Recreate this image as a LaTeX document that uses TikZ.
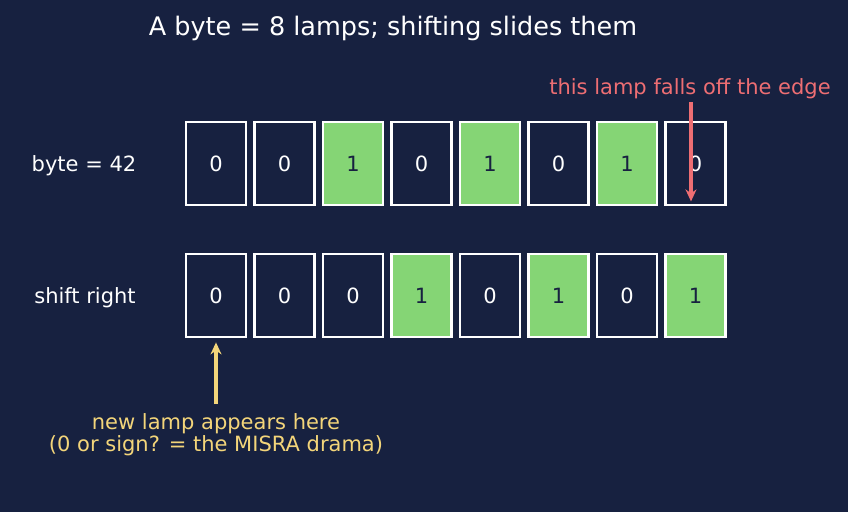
\documentclass[tikz,border=0pt]{standalone}
\usepackage{fontspec}
\setmainfont{DejaVu Sans}
\usetikzlibrary{arrows.meta}

\definecolor{bg}{HTML}{172140}
\definecolor{lampon}{HTML}{85D575}
\definecolor{falloff}{HTML}{EE6E73}
\definecolor{newlamp}{HTML}{F3D57A}

\tikzset{
  lamp/.style={draw=white, line width=2.8pt, minimum width=60pt,
    minimum height=83pt, inner sep=0pt, font=\fontsize{21}{22}\selectfont},
  bit0/.style={lamp, fill=bg, text=white},
  bit1/.style={lamp, fill=lampon, text=bg},
  rowlabel/.style={text=white, font=\fontsize{21}{22}\selectfont},
  note/.style={font=\fontsize{21}{22.5}\selectfont, align=center, inner sep=1pt},
  pointer/.style={line width=3.2pt, -{Stealth[length=12pt,width=11pt]}}
}

\begin{document}
\begin{tikzpicture}[x=1pt,y=-1pt]
  \fill[bg] (0,0) rectangle (848,512);
  \useasboundingbox (0,0) rectangle (848,512);

  \node[text=white, font=\fontsize{25.5}{28}\selectfont] (title) at (393,28)
    {A byte = 8 lamps; shifting slides them};

  % the two rows of lamps
  \node[rowlabel] (before) at (84,166) {byte = 42};
  \node[rowlabel] (after) at (85,298) {shift right};

  \foreach \b [count=\i] in {0,0,1,0,1,0,1,0}
    \node[bit\b] (a\i) at ({216+68.5*(\i-1)},163.5) {\b};
  \foreach \b [count=\i] in {0,0,0,1,0,1,0,1}
    \node[bit\b] (b\i) at ({216+68.5*(\i-1)},295.5) {\b};

  % what falls off, what comes in
  \node[note, text=falloff] (edge) at (690,89) {this lamp falls off the edge};
  \coordinate (edgetail) at (691,102);
  \draw[pointer, falloff, shorten >=5pt] (edgetail) -- (edgetail |- a8.south);

  \node[note, text=newlamp] (newbit) at (216,434.5)
    {new lamp appears here\\(0 or sign? = the MISRA drama)};
  \coordinate (newtail) at (216,404);
  \draw[pointer, newlamp, shorten >=4pt] (newtail) -- (b1.south);
\end{tikzpicture}
\end{document}
